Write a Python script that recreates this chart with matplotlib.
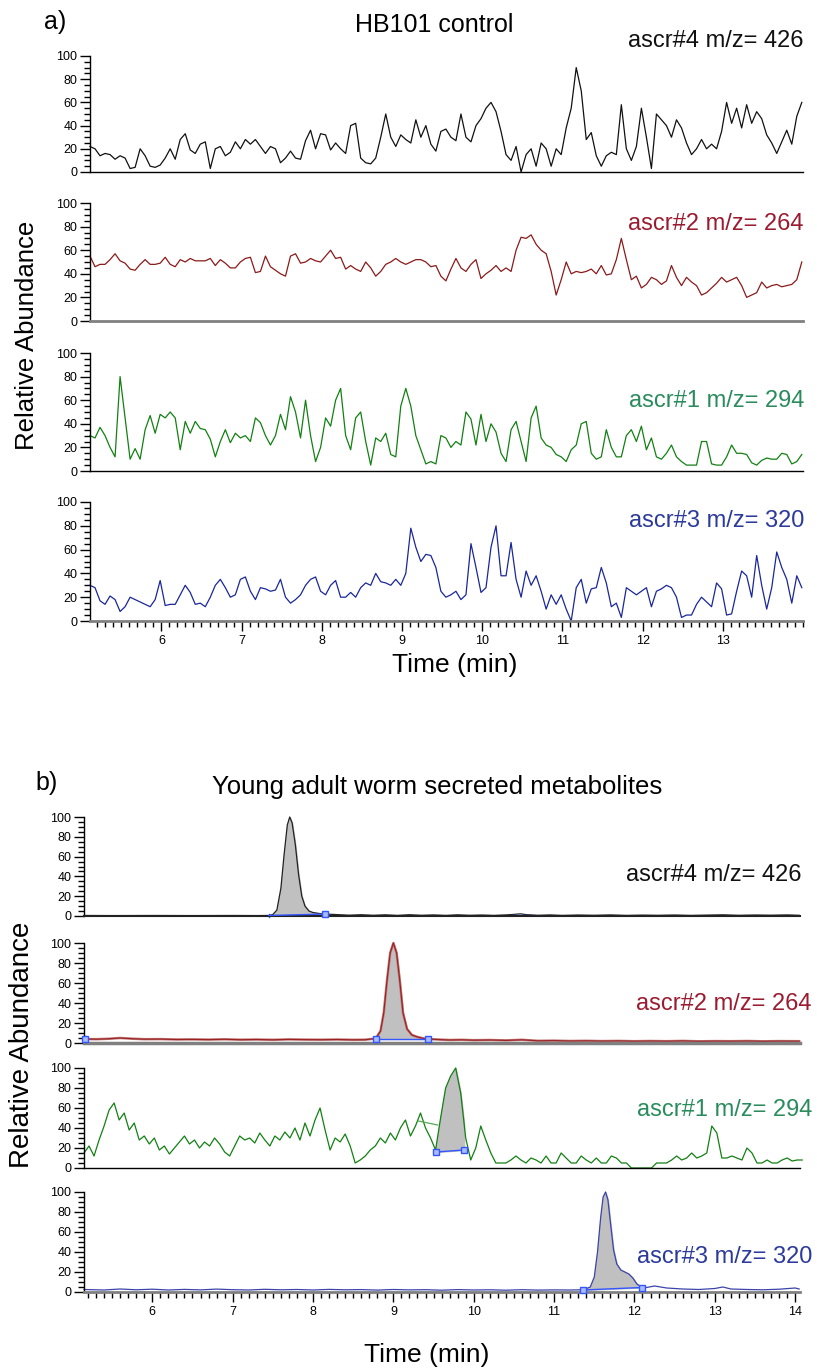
import numpy as np
import matplotlib.pyplot as plt
from matplotlib.ticker import MultipleLocator

plt.rcParams['font.family'] = ['Liberation Sans', 'DejaVu Sans']

# ---- panel a: HB101 control, scans every 1/16 min from 5.11 min ----
a_t0 = 5.11
a_step = 0.0625

a_ascr4 = [22, 20, 14, 16, 15, 11, 14, 12, 3, 4, 20, 14, 5, 4, 6, 12, 20, 11, 28, 33,
           19, 16, 24, 26, 3, 20, 22, 14, 17, 26, 20, 28, 24, 28, 22, 16, 22, 20, 8, 12,
           18, 12, 11, 27, 36, 20, 33, 32, 19, 25, 20, 16, 40, 42, 12, 8, 7, 12, 30, 50,
           30, 22, 32, 28, 25, 45, 30, 40, 24, 18, 35, 37, 30, 27, 50, 30, 26, 40, 46, 55,
           60, 52, 35, 15, 10, 22, 0, 15, 20, 5, 25, 20, 5, 20, 15, 38, 55, 90, 70, 28,
           34, 14, 5, 14, 17, 15, 58, 20, 10, 22, 55, 30, 3, 50, 45, 40, 30, 45, 38, 25,
           15, 20, 28, 20, 24, 20, 35, 60, 42, 55, 38, 58, 42, 52, 46, 32, 25, 16, 26, 36,
           24, 48, 60]

a_ascr2 = [55, 46, 48, 48, 52, 57, 51, 49, 44, 43, 48, 52, 48, 48, 49, 54, 48, 46, 52, 50,
           53, 51, 51, 51, 53, 47, 52, 49, 45, 45, 50, 53, 54, 41, 42, 55, 46, 43, 40, 38,
           55, 57, 49, 50, 53, 51, 50, 55, 60, 53, 54, 44, 47, 44, 42, 50, 45, 38, 42, 48,
           50, 53, 50, 48, 50, 52, 52, 50, 46, 47, 38, 34, 44, 53, 45, 42, 48, 52, 36, 40,
           43, 47, 42, 45, 42, 60, 71, 70, 73, 65, 60, 57, 42, 22, 35, 50, 40, 42, 41, 42,
           44, 40, 47, 39, 40, 52, 70, 52, 35, 38, 28, 31, 37, 35, 31, 34, 47, 37, 30, 37,
           33, 30, 22, 24, 28, 32, 37, 33, 35, 37, 30, 20, 22, 24, 33, 28, 30, 31, 29, 30,
           31, 35, 50]

a_ascr1 = [30, 28, 37, 30, 20, 12, 80, 45, 10, 19, 10, 35, 47, 32, 48, 45, 50, 45, 18, 42,
           32, 42, 36, 35, 27, 12, 25, 35, 24, 32, 28, 30, 25, 45, 41, 30, 22, 30, 48, 35,
           63, 50, 28, 60, 30, 8, 20, 45, 38, 60, 70, 30, 18, 45, 50, 25, 5, 28, 25, 32,
           14, 12, 55, 70, 55, 30, 18, 6, 8, 6, 30, 28, 20, 25, 22, 50, 44, 22, 48, 25,
           40, 33, 15, 8, 35, 42, 25, 8, 45, 55, 28, 22, 20, 14, 12, 8, 18, 22, 40, 42,
           15, 10, 12, 35, 20, 12, 12, 30, 35, 25, 38, 18, 28, 12, 10, 15, 22, 12, 8, 5,
           5, 5, 25, 25, 6, 5, 5, 12, 22, 15, 15, 14, 7, 5, 9, 11, 10, 10, 15, 14,
           6, 8, 14]

a_ascr3 = [30, 28, 17, 14, 21, 18, 8, 12, 20, 18, 16, 14, 12, 18, 34, 13, 14, 14, 22, 30,
           24, 14, 15, 12, 20, 30, 35, 28, 20, 22, 35, 37, 25, 18, 28, 27, 25, 26, 35, 20,
           15, 18, 22, 30, 35, 37, 25, 22, 30, 34, 20, 20, 24, 20, 28, 32, 30, 40, 33, 32,
           30, 35, 30, 40, 78, 62, 50, 56, 55, 45, 25, 20, 22, 25, 18, 22, 65, 45, 24, 28,
           62, 80, 38, 38, 66, 35, 20, 42, 30, 38, 25, 10, 22, 14, 22, 10, 0, 28, 35, 15,
           27, 28, 45, 32, 12, 15, 3, 28, 25, 22, 25, 28, 12, 25, 27, 30, 28, 20, 3, 5,
           5, 14, 20, 16, 12, 32, 27, 5, 6, 25, 42, 38, 20, 55, 30, 10, 28, 58, 45, 35,
           15, 38, 28]

# ---- panel b: young adult worm secreted metabolites ----
b1_time = [5.15, 5.5, 6.0, 6.5, 7.0, 7.3, 7.45, 7.5, 7.55, 7.6, 7.64, 7.68, 7.71, 7.74,
           7.78, 7.82, 7.86, 7.9, 7.95, 8.0, 8.08, 8.15, 8.3, 8.45, 8.6, 8.75, 8.9, 9.05,
           9.2, 9.35, 9.5, 9.65, 9.8, 9.95, 10.1, 10.25, 10.4, 10.5, 10.58, 10.65, 10.8,
           10.95, 11.1, 11.3, 11.5, 11.7, 11.9, 12.1, 12.3, 12.5, 12.7, 12.9, 13.1, 13.3,
           13.5, 13.7, 13.9, 14.05]
b1_ascr4 = [0.5, 0.4, 0.5, 0.4, 0.5, 0.4, 0.5, 1.5, 6, 28, 62, 92, 100, 94,
            72, 42, 20, 10, 5, 3.5, 2.5, 2, 1.4, 0.8, 1.3, 0.7, 1.2, 0.6,
            1.3, 0.7, 1.1, 0.6, 1.2, 0.7, 1.0, 0.6, 1.1, 1.6, 2.2, 1.4, 0.7,
            1.1, 0.6, 1.0, 0.7, 1.1, 0.6, 0.9, 0.7, 1.0, 0.6, 0.9, 1.2, 0.7,
            1.0, 0.8, 1.1, 0.7]

b2_time = [5.15, 5.3, 5.45, 5.6, 5.75, 5.9, 6.1, 6.3, 6.5, 6.7, 6.9, 7.1, 7.3, 7.5,
           7.7, 7.9, 8.1, 8.3, 8.5, 8.65, 8.78, 8.84, 8.88, 8.92, 8.96, 9.0, 9.04, 9.08,
           9.12, 9.17, 9.23, 9.3, 9.38, 9.43, 9.55, 9.7, 9.85, 10.0, 10.2, 10.4, 10.6,
           10.8, 11.0, 11.2, 11.4, 11.6, 11.8, 12.0, 12.2, 12.4, 12.6, 12.8, 13.0, 13.2,
           13.4, 13.6, 13.8, 14.05]
b2_ascr2 = [4.0, 3.8, 4.2, 5.0, 4.3, 3.8, 3.9, 3.5, 3.6, 3.4, 3.7, 3.3, 3.5, 3.2,
            3.6, 3.4, 3.3, 3.5, 3.2, 3.3, 4.5, 12, 30, 62, 90, 100, 90, 62,
            30, 14, 8, 6, 4.5, 4, 3.5, 3.0, 3.2, 2.8, 3.0, 2.6, 3.2,
            2.2, 2.4, 2.0, 2.2, 1.9, 2.1, 1.8, 2.0, 1.8, 2.1, 1.7, 1.9, 1.8,
            2.0, 1.7, 1.9, 1.8]

b_t0 = 5.15
b_step = 0.0625
b3_ascr1 = [15, 22, 12, 28, 42, 58, 65, 48, 55, 38, 45, 28, 32, 24, 30, 18, 22, 14, 20, 26,
            32, 24, 28, 20, 26, 22, 30, 24, 16, 12, 22, 32, 28, 30, 25, 35, 28, 22, 32, 28,
            36, 30, 40, 28, 45, 32, 48, 60, 38, 18, 30, 26, 34, 22, 5, 8, 12, 18, 22, 30,
            25, 35, 28, 40, 48, 32, 42, 55, 40, 30, 18, 50, 80, 92, 100, 75, 30, 8, 20, 42,
            28, 15, 5, 5, 5, 8, 12, 8, 5, 10, 8, 5, 12, 5, 5, 15, 10, 5, 5, 12,
            8, 5, 10, 5, 5, 12, 10, 5, 5, 0, 0, 0, 0, 0, 5, 5, 5, 8, 12, 8,
            10, 15, 10, 12, 15, 42, 35, 10, 10, 12, 10, 8, 20, 15, 5, 5, 8, 5, 5, 8,
            10, 7, 8, 8]
# short stray green stroke left of the ascr#1 peak
b3_stray_time = [9.31, 9.55]
b3_stray = [47, 43]

b4_time = [5.15, 5.4, 5.6, 5.8, 6.0, 6.2, 6.4, 6.6, 6.8, 7.0, 7.2, 7.4, 7.6, 7.8, 8.0,
           8.2, 8.4, 8.6, 8.8, 9.0, 9.2, 9.4, 9.6, 9.8, 10.0, 10.2, 10.4, 10.6, 10.8, 11.0,
           11.2, 11.36, 11.45, 11.5, 11.54, 11.58, 11.61, 11.64, 11.67, 11.7, 11.74, 11.78,
           11.83, 11.88, 11.93, 11.98, 12.03, 12.09, 12.15, 12.25, 12.4, 12.6, 12.8, 13.0,
           13.1, 13.2, 13.4, 13.6, 13.8, 14.0, 14.05]
b4_ascr3 = [2.5, 2.0, 3.0, 2.2, 2.8, 2.0, 2.6, 2.1, 2.9, 2.3, 2.0, 2.7, 2.2, 2.5, 2.0,
            2.6, 2.2, 2.4, 1.9, 2.5, 2.1, 2.3, 1.8, 2.4, 2.0, 2.2, 1.8, 2.3, 1.9, 2.1,
            2.0, 2.2, 5, 15, 40, 75, 95, 100, 92, 70, 42, 28,
            22, 20, 18, 14, 8, 5, 4.5, 6, 4, 3, 2.5, 3.5,
            5, 3, 2.5, 2.2, 2.8, 4, 3]

# integration baselines (start, end) as (time, level)
b1_base = [(7.45, 0.5), (8.15, 2.0)]
b2_base = [(8.78, 4.0), (9.43, 4.0)]
b3_base = [(9.53, 16.0), (9.88, 18.0)]
b4_base = [(11.36, 2.0), (12.09, 4.5)]

labels_a = ['ascr#4 m/z= 426', 'ascr#2 m/z= 264', 'ascr#1 m/z= 294', 'ascr#3 m/z= 320']
W, H = 817, 1368
fig = plt.figure(figsize=(W / 100, H / 100), dpi=100)


def px(x, y):
    return x / W, 1 - y / H


def rect(x0, x1, ytop, ybot):
    return [x0 / W, 1 - ybot / H, (x1 - x0) / W, (ybot - ytop) / H]


def trace_axes(r, xlim, spine_color, spine_lw, xticks=None):
    ax = fig.add_axes(r)
    ax.set_xlim(*xlim)
    ax.set_ylim(0, 100)
    ax.set_yticks([0, 20, 40, 60, 80, 100])
    ax.yaxis.set_minor_locator(MultipleLocator(5))
    ax.tick_params(axis='y', which='major', direction='out', length=7, width=1,
                   labelsize=9, pad=2)
    ax.tick_params(axis='y', which='minor', direction='out', length=4, width=1)
    for s in ['top', 'right']:
        ax.spines[s].set_visible(False)
    ax.spines['left'].set_linewidth(1)
    ax.spines['bottom'].set_color(spine_color)
    ax.spines['bottom'].set_linewidth(spine_lw)
    if xticks is None:
        ax.tick_params(axis='x', which='both', bottom=False, labelbottom=False)
    else:
        ax.set_xticks(xticks)
        ax.xaxis.set_minor_locator(MultipleLocator(0.1))
        ax.tick_params(axis='x', which='major', direction='out', length=7, width=1,
                       labelsize=9, pad=3)
        ax.tick_params(axis='x', which='minor', direction='out', length=4, width=1)
    return ax


def shade_peak(ax, t, y, base):
    t = np.asarray(t, float)
    y = np.asarray(y, float)
    (t0, y0), (t1, y1) = base
    m = (t >= t0 - 1e-6) & (t <= t1 + 1e-6)
    tt = np.concatenate([[t0], t[m], [t1]])
    yy = np.concatenate([[np.interp(t0, t, y)], y[m], [np.interp(t1, t, y)]])
    bb = np.interp(tt, [t0, t1], [y0, y1])
    ax.fill_between(tt, yy, bb, color='#c0c0c0', zorder=1)
    ax.plot([t0, t1], [y0, y1], color='#3355ff', lw=1, zorder=3, clip_on=False)


def marker(ax, t, y):
    ax.plot([t], [y], marker='s', ms=5, mfc='#aabbff', mec='#3355ff', mew=1,
            zorder=4, clip_on=False)


# ---- a) panels ----
a_time = a_t0 + a_step * np.arange(len(a_ascr4))
a_xlim = (5.11, 14.0)
a_rects = [rect(90, 803, 56, 172), rect(90, 803, 203, 321),
           rect(90, 803, 353, 471), rect(90, 803, 502, 621)]
a_series = [a_ascr4, a_ascr2, a_ascr1, a_ascr3]
a_colors = ['#111111', '#8b1a1a', '#128012', '#1a2799']
a_text_colors = ['#111111', '#9b1b30', '#2a8c5c', '#2b3a9b']
a_spines = [('#000000', 1), ('#808080', 2), ('#000000', 1), ('#808080', 2)]
a_label_y = [41, 224, 401, 521]

for i in range(4):
    xt = list(range(6, 14)) if i == 3 else None
    ax = trace_axes(a_rects[i], a_xlim, a_spines[i][0], a_spines[i][1], xt)
    ax.plot(a_time, a_series[i], color=a_colors[i], lw=0.9, clip_on=False)
    fig.text(*px(804, a_label_y[i]), labels_a[i], ha='right', va='center',
             fontsize=17, color=a_text_colors[i])

fig.text(*px(55, 22), 'a)', ha='center', va='center', fontsize=18)
fig.text(*px(434, 25), 'HB101 control', ha='center', va='center', fontsize=18)
fig.text(*px(27, 335), 'Relative Abundance', ha='center', va='center',
         rotation=90, fontsize=18.5)
fig.text(*px(455, 665), 'Time (min)', ha='center', va='center', fontsize=19)

# ---- b) panels ----
b_xlim = (5.15, 14.06)
b3_time = b_t0 + b_step * np.arange(len(b3_ascr1))

ax = trace_axes(rect(84, 800, 817, 916), b_xlim, '#222222', 1.5)
shade_peak(ax, b1_time, b1_ascr4, b1_base)
ax.plot(b1_time, b1_ascr4, color='#222222', lw=0.9, zorder=2, clip_on=False)
ax.plot([b1_base[0][0]] * 2, [-1.5, 2.5], color='#3355ff', lw=1, clip_on=False)
marker(ax, *b1_base[1])
ax.plot([10.48, 10.72], [1.2, 1.2], color='#3355ff', lw=1, clip_on=False)
fig.text(*px(802, 875), 'ascr#4 m/z= 426', ha='right', va='center',
         fontsize=17, color='#111111')

ax = trace_axes(rect(84, 800, 943, 1043), b_xlim, '#808080', 2.5)
shade_peak(ax, b2_time, b2_ascr2, b2_base)
ax.plot(b2_time, b2_ascr2, color='#c07878', lw=1.8, zorder=2, clip_on=False)
ax.plot(b2_time, b2_ascr2, color='#9b2020', lw=0.8, zorder=2, clip_on=False)
marker(ax, 5.16, 4.0)
marker(ax, *b2_base[0])
marker(ax, *b2_base[1])
fig.text(*px(812, 1004), 'ascr#2 m/z= 264', ha='right', va='center',
         fontsize=17, color='#9b1b30')

ax = trace_axes(rect(84, 800, 1068, 1168), b_xlim, '#000000', 1)
shade_peak(ax, b3_time, b3_ascr1, b3_base)
ax.plot(b3_time, b3_ascr1, color='#128012', lw=0.9, zorder=2, clip_on=False)
ax.plot(b3_stray_time, b3_stray, color='#55aa55', lw=0.9, zorder=2)
marker(ax, *b3_base[0])
marker(ax, *b3_base[1])
fig.text(*px(812, 1110), 'ascr#1 m/z= 294', ha='right', va='center',
         fontsize=17, color='#2a8c5c')

ax = trace_axes(rect(84, 800, 1192, 1292), b_xlim, '#808080', 2, list(range(6, 15)))
shade_peak(ax, b4_time, b4_ascr3, b4_base)
ax.plot(b4_time, b4_ascr3, color='#3a44aa', lw=0.9, zorder=2, clip_on=False)
marker(ax, *b4_base[0])
marker(ax, *b4_base[1])
fig.text(*px(812, 1257), 'ascr#3 m/z= 320', ha='right', va='center',
         fontsize=17, color='#2b3a9b')

fig.text(*px(47, 783), 'b)', ha='center', va='center', fontsize=18)
fig.text(*px(437, 787), 'Young adult worm secreted metabolites', ha='center',
         va='center', fontsize=18.5)
fig.text(*px(22, 1045), 'Relative Abundance', ha='center', va='center',
         rotation=90, fontsize=20)
fig.text(*px(427, 1355), 'Time (min)', ha='center', va='center', fontsize=19)

fig.savefig('out.png', dpi=100)
